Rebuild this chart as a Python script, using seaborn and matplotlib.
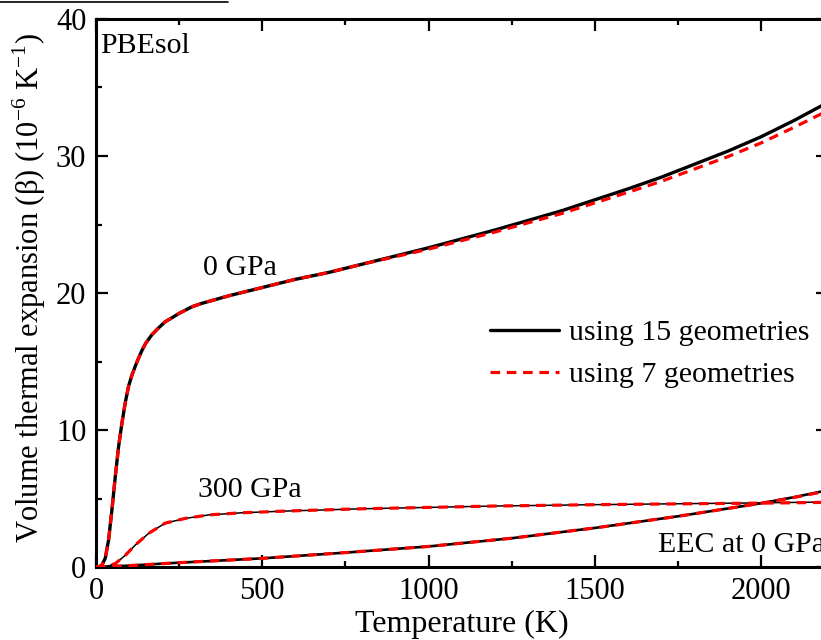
"""
Volume thermal expansion vs temperature - PBEsol
"""

import numpy as np
import pandas as pd
import matplotlib
matplotlib.use('Agg')
import matplotlib.pyplot as plt
from matplotlib.lines import Line2D
from matplotlib.ticker import MultipleLocator
import seaborn as sns

# 0 GPa
t_0gpa = [0, 10, 18, 28, 38, 48, 58, 68, 78, 88, 98, 108, 118, 128, 138, 150, 168, 188,
          208, 229, 249, 269, 289, 319, 400, 500, 600, 700, 800, 1000, 1200, 1400,
          1600, 1700, 1800, 1900, 2000, 2100, 2200]
beta_0gpa_15 = [0, 0.02, 0.15, 0.65, 2.0, 4.2, 6.6, 8.8, 10.5, 12.0, 13.2, 14.0, 14.65,
                15.25, 15.8, 16.35, 16.95, 17.45, 17.9, 18.2, 18.5, 18.75, 19.0, 19.25,
                19.8, 20.4, 21.0, 21.5, 22.1, 23.3, 24.6, 26.0, 27.6, 28.45, 29.4, 30.35,
                31.4, 32.6, 33.9]
beta_0gpa_7 = [0, 0.02, 0.15, 0.65, 2.0, 4.2, 6.6, 8.8, 10.5, 12.0, 13.2, 14.0, 14.65,
               15.25, 15.8, 16.35, 16.95, 17.45, 17.9, 18.2, 18.5, 18.75, 19.0, 19.25,
               19.8, 20.4, 21.0, 21.5, 22.1, 23.2, 24.45, 25.8, 27.35, 28.15, 29.05, 29.95,
               30.95, 32.1, 33.3]

# 300 GPa
t_300gpa = [0, 28, 58, 88, 118, 158, 208, 269, 339, 439, 579, 800, 1000, 1200, 1500,
            1800, 2000, 2200]
beta_300gpa_15 = [0, 0, 0.25, 0.85, 1.6, 2.45, 3.2, 3.55, 3.8, 3.96, 4.09, 4.25, 4.35,
                  4.45, 4.55, 4.63, 4.68, 4.75]
beta_300gpa_7 = [0, 0, 0.25, 0.85, 1.6, 2.45, 3.2, 3.55, 3.8, 3.96, 4.09, 4.25, 4.35,
                 4.45, 4.55, 4.62, 4.66, 4.72]

# EEC at 0 GPa
t_eec = [0, 100, 238, 499, 750, 1000, 1250, 1500, 1750, 2000, 2100, 2200]
beta_eec_15 = [0, 0.1, 0.3, 0.63, 1.05, 1.5, 2.1, 2.85, 3.7, 4.65, 5.1, 5.6]
beta_eec_7 = [0, 0.1, 0.3, 0.63, 1.05, 1.5, 2.1, 2.85, 3.7, 4.65, 5.08, 5.55]

sns.set_theme(style='ticks')
plt.rcParams['font.family'] = ['Liberation Serif', 'DejaVu Serif']
plt.rcParams['mathtext.fontset'] = 'custom'
plt.rcParams['mathtext.rm'] = 'Liberation Serif'
plt.rcParams['text.color'] = 'black'
plt.rcParams['axes.labelcolor'] = 'black'
fs = 21.5
fs_label = 23

fig = plt.figure(figsize=(8.21, 6.40), dpi=100)
ax = fig.add_axes([96 / 821, 73 / 640, 731.5 / 821, 548 / 640])

dash = (0, (3.0, 2.1))
curves = [
    (t_0gpa, beta_0gpa_15, beta_0gpa_7, 2.4),
    (t_300gpa, beta_300gpa_15, beta_300gpa_7, 1.1),
    (t_eec, beta_eec_15, beta_eec_7, 1.9),
]
for t, b15, b7, lw in curves:
    sns.lineplot(x=t, y=b15, ax=ax, color='black', lw=lw, zorder=2)
    sns.lineplot(x=t, y=b7, ax=ax, color='red', lw=2.3, zorder=3, linestyle=dash)

ax.set_xlim(0, 2200)
ax.set_ylim(0, 40)
ax.xaxis.set_major_locator(MultipleLocator(500))
ax.xaxis.set_minor_locator(MultipleLocator(250))
ax.yaxis.set_major_locator(MultipleLocator(10))
ax.yaxis.set_minor_locator(MultipleLocator(5))
ax.tick_params(which='both', direction='in', top=True, right=True,
               labelsize=22, width=1.6, pad=7, colors='black')
ax.tick_params(which='major', length=8.6)
ax.tick_params(which='minor', length=4.3)
for s in ax.spines.values():
    s.set_linewidth(2.2)
    s.set_color('black')

ax.set_xlabel('Temperature (K)', fontsize=fs_label, labelpad=3)
ax.set_ylabel('Volume thermal expansion (β) '
              r'(10$^{\mathregular{-6}}$ K$^{\mathregular{-1}}$)', fontsize=22)
ax.yaxis.set_label_coords(-0.066, 0.51)

ax.text(12, 38.0, 'PBEsol', fontsize=fs, va='center', ha='left')
ax.text(433, 21.8, '0 GPa', fontsize=fs, va='center', ha='center')
ax.text(463, 5.6, '300 GPa', fontsize=fs, va='center', ha='center')
ax.text(1690, 1.6, 'EEC at 0 GPa', fontsize=fs, va='center', ha='left', clip_on=False)

handles = [Line2D([], [], color='black', lw=2.4),
           Line2D([], [], color='red', lw=2.3, linestyle=dash)]
ax.legend(handles, ['using 15 geometries', 'using 7 geometries'],
          loc='upper left', bbox_to_anchor=(0.5386, 0.452), frameon=False,
          fontsize=fs, handlelength=2.3, handletextpad=0.35,
          borderpad=0, borderaxespad=0, labelspacing=0.5)

# remnant of the panel above
fig.add_artist(Line2D([0, 228 / 821], [1 - 1.5 / 640, 1 - 1.5 / 640],
                      color='black', lw=1.2, transform=fig.transFigure))

fig.savefig('out.png', dpi=100)
